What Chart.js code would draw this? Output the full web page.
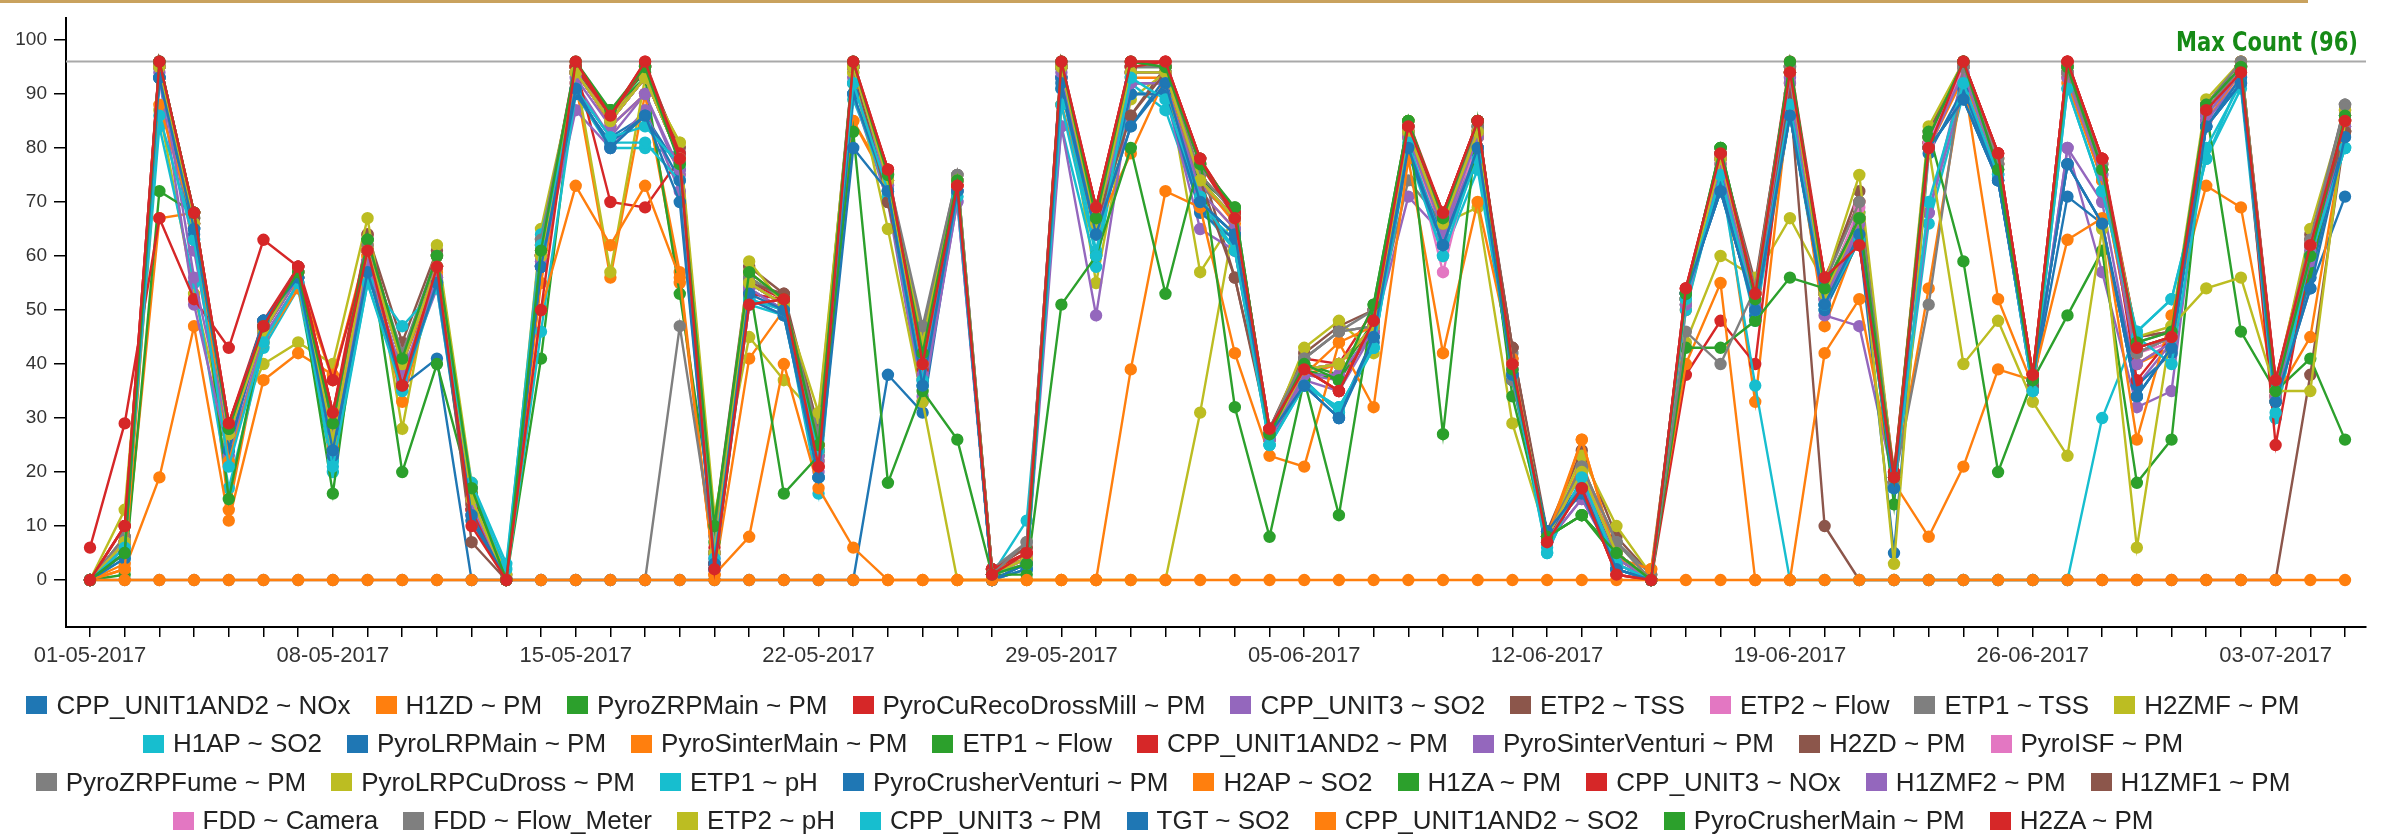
<!DOCTYPE html>
<html><head><meta charset="utf-8">
<script src="https://cdn.jsdelivr.net/npm/chart.js@4.4.0/dist/chart.umd.min.js"></script>
<style>
html,body{margin:0;padding:0;background:#fff;}
#wrap{position:relative;width:2386px;height:836px;overflow:hidden;background:#fff;}
#topline{position:absolute;left:0;top:0;width:2308px;height:3px;background:#c9a25e;}
#cbox{position:absolute;left:0;top:0;width:2386px;height:690px;}
#legend{position:absolute;left:0;top:686px;width:2326px;font-family:"Liberation Sans",Arial,sans-serif;font-size:26px;color:#222;}
.row{display:flex;justify-content:center;align-items:center;height:38.5px;white-space:nowrap;}
.item{display:flex;align-items:center;margin:0 12.5px;}
.box{width:21px;height:18px;margin-right:9px;flex:none;}
</style></head>
<body><div id="wrap"><div id="cbox"><canvas id="c"></canvas></div><div id="topline"></div><div id="legend"></div></div>
<script>
const dates = ["01-05-2017","02-05-2017","03-05-2017","04-05-2017","05-05-2017","06-05-2017","07-05-2017","08-05-2017","09-05-2017","10-05-2017","11-05-2017","12-05-2017","13-05-2017","14-05-2017","15-05-2017","16-05-2017","17-05-2017","18-05-2017","19-05-2017","20-05-2017","21-05-2017","22-05-2017","23-05-2017","24-05-2017","25-05-2017","26-05-2017","27-05-2017","28-05-2017","29-05-2017","30-05-2017","31-05-2017","01-06-2017","02-06-2017","03-06-2017","04-06-2017","05-06-2017","06-06-2017","07-06-2017","08-06-2017","09-06-2017","10-06-2017","11-06-2017","12-06-2017","13-06-2017","14-06-2017","15-06-2017","16-06-2017","17-06-2017","18-06-2017","19-06-2017","20-06-2017","21-06-2017","22-06-2017","23-06-2017","24-06-2017","25-06-2017","26-06-2017","27-06-2017","28-06-2017","29-06-2017","30-06-2017","01-07-2017","02-07-2017","03-07-2017","04-07-2017","05-07-2017"];
const seriesNames = ["CPP_UNIT1AND2 ~ NOx","H1ZD ~ PM","PyroZRPMain ~ PM","PyroCuRecoDrossMill ~ PM","CPP_UNIT3 ~ SO2","ETP2 ~ TSS","ETP2 ~ Flow","ETP1 ~ TSS","H2ZMF ~ PM","H1AP ~ SO2","PyroLRPMain ~ PM","PyroSinterMain ~ PM","ETP1 ~ Flow","CPP_UNIT1AND2 ~ PM","PyroSinterVenturi ~ PM","H2ZD ~ PM","PyroISF ~ PM","PyroZRPFume ~ PM","PyroLRPCuDross ~ PM","ETP1 ~ pH","PyroCrusherVenturi ~ PM","H2AP ~ SO2","H1ZA ~ PM","CPP_UNIT3 ~ NOx","H1ZMF2 ~ PM","H1ZMF1 ~ PM","FDD ~ Camera","FDD ~ Flow_Meter","ETP2 ~ pH","CPP_UNIT3 ~ PM","TGT ~ SO2","CPP_UNIT1AND2 ~ SO2","PyroCrusherMain ~ PM","H2ZA ~ PM"];
const palette = ["#1f77b4","#ff7f0e","#2ca02c","#d62728","#9467bd","#8c564b","#e377c2","#7f7f7f","#bcbd22","#17becf"];
const legendRows = [[0,1,2,3,4,5,6,7,8],[9,10,11,12,13,14,15,16],[17,18,19,20,21,22,23,24,25],[26,27,28,29,30,31,32,33]];
const yTicks = [0,10,20,30,40,50,60,70,80,90,100];
const maxCount = 96;

const s0 = [0,5,93,65,28,48,56,24,58,37,56,12,0,58,91,82,86,76,3,54,50,19,92,72,36,72,0,3,93,64,92,92,70,64,27,37,31,45,80,63,80,38,9,18,2,0,53,72,50,86,51,64,17,80,89,74,37,77,66,34,43,84,92,33,56,83];
const s1 = [0,3,67,68,13,46,56,37,62,40,56,14,0,55,92,56,90,57,1,41,50,22,85,73,38,73,1,3,88,64,93,93,72,65,26,38,40,46,82,65,82,39,7,22,4,0,50,76,51,92,52,65,18,80,93,76,36,93,74,40,43,86,94,34,60,85];
const s2 = [0,5,96,67,27,47,57,26,63,41,60,16,0,61,95,87,94,78,7,56,52,25,95,75,41,74,1,4,95,67,95,95,75,68,27,40,38,48,84,67,84,40,8,18,5,0,53,80,53,95,54,68,18,82,95,77,37,95,76,43,45,87,95,35,62,86];
const s3 = [0,10,96,68,29,48,58,31,64,40,60,16,0,62,96,86,96,79,6,55,52,25,96,76,42,74,2,6,96,69,96,96,78,68,28,41,40,50,85,68,85,41,8,20,5,0,54,79,54,96,56,70,20,82,96,79,38,96,78,45,46,88,96,37,63,87];
const s4 = [0,6,94,61,25,46,56,24,59,38,56,13,0,59,92,82,90,75,3,54,50,22,93,72,34,70,1,4,93,64,92,92,70,61,26,38,37,46,80,64,82,39,7,15,4,0,52,76,51,92,52,65,18,68,94,76,35,80,70,36,44,86,94,34,60,84];
const s5 = [0,8,96,68,28,47,58,29,64,44,61,17,1,63,95,86,95,80,10,58,53,28,96,70,45,75,2,6,96,68,86,95,77,56,28,42,47,50,84,67,84,43,9,24,8,1,53,79,55,95,55,72,19,83,96,78,36,95,77,45,46,88,96,36,64,83];
const s6 = [0,7,95,66,27,46,57,26,61,42,58,15,0,60,94,85,93,78,5,55,51,24,95,74,40,74,1,4,95,66,94,94,74,67,27,39,40,47,83,62,83,40,8,20,5,0,52,78,53,94,53,67,18,81,95,77,37,94,76,42,44,87,95,35,62,86];
const s7 = [0,7,95,66,27,46,57,26,61,40,58,15,0,60,94,85,93,78,5,55,51,24,95,74,46,75,1,4,95,66,94,94,73,67,27,41,46,47,74,66,83,37,8,21,7,0,52,78,53,94,53,67,18,81,95,77,37,94,76,42,45,87,95,35,62,88];
const s8 = [0,13,87,53,26,40,44,40,67,28,62,18,1,65,94,86,93,81,12,45,37,30,94,75,44,74,2,4,95,55,89,94,57,67,27,43,48,42,85,66,69,29,8,23,10,1,44,60,56,67,55,75,19,84,96,78,38,95,77,45,47,89,96,36,65,87];
const s9 = [0,6,84,55,17,43,54,20,55,36,55,17,2,64,90,80,80,79,3,52,50,16,89,73,38,71,1,11,84,58,92,87,69,61,25,37,31,43,80,60,76,38,5,19,3,0,51,75,48,86,50,63,17,66,90,75,35,91,72,46,52,78,91,30,60,80];
const s10 = [0,5,93,65,24,48,56,24,57,36,41,0,0,0,0,0,0,0,0,0,0,0,0,38,31,72,0,3,93,64,84,93,70,64,26,36,30,44,80,63,80,38,9,18,3,0,53,72,50,86,51,64,17,80,89,74,37,77,66,34,43,84,92,33,56,84];
const s11 = [0,2,19,47,11,37,42,38,60,33,57,16,0,62,95,84,90,55,1,57,52,25,85,74,40,73,1,3,88,65,79,93,74,66,26,38,44,47,82,65,82,40,7,26,4,2,51,77,33,90,47,64,18,54,93,52,36,92,74,40,44,85,94,33,60,84];
const s12 = [0,1,72,68,15,46,56,16,63,20,40,16,0,41,94,87,93,53,10,55,51,24,95,74,40,74,1,4,95,67,94,94,74,69,27,39,37,47,83,66,85,40,8,12,4,0,52,80,53,94,53,67,18,82,95,76,37,94,75,42,45,87,95,35,57,86];
const s13 = [0,10,96,68,29,47,58,31,61,36,58,13,0,58,95,70,69,78,3,51,52,21,95,76,40,73,2,5,95,69,96,95,77,67,28,39,35,48,84,68,85,40,7,17,1,0,38,48,40,94,56,62,19,80,96,79,38,96,78,43,45,87,95,37,62,85];
const s14 = [0,5,93,51,23,45,55,23,57,37,54,12,0,58,87,80,87,72,2,52,49,20,90,70,33,70,0,2,84,49,90,90,65,61,26,37,35,46,71,64,80,38,7,15,3,0,51,74,50,90,49,47,18,68,91,75,35,80,57,32,35,85,93,34,59,84];
const s15 = [0,7,95,66,27,46,57,26,61,40,58,15,0,60,94,85,93,78,5,55,51,24,95,74,40,74,1,4,95,66,94,94,74,67,27,39,40,47,83,66,83,43,8,20,5,0,52,78,53,90,10,0,0,0,0,0,0,0,0,0,0,0,0,0,38,83];
const s16 = [0,7,95,66,27,46,57,26,61,40,58,15,0,60,94,85,93,78,5,55,51,24,95,74,40,74,1,4,95,66,94,94,74,67,27,39,40,47,83,57,83,40,8,20,5,0,52,78,53,94,53,69,18,81,95,77,37,94,76,42,45,87,95,35,62,86];
const s17 = [0,8,96,67,28,47,58,28,62,42,60,15,0,63,95,86,95,78,8,56,52,27,95,75,47,75,2,7,95,68,95,95,75,68,28,41,46,50,84,67,84,42,8,21,7,1,53,79,54,95,55,70,19,82,96,78,37,95,77,44,46,88,96,36,63,88];
const s18 = [0,7,95,66,27,46,57,26,61,40,58,15,0,60,94,57,93,81,5,59,51,31,94,65,33,0,0,0,0,0,0,0,31,67,27,39,40,47,83,66,83,40,8,20,5,0,52,78,53,94,53,67,18,81,95,77,37,94,76,42,45,87,95,35,62,86];
const s19 = [0,4,93,63,22,44,55,22,56,47,54,11,0,46,90,81,81,74,2,51,49,19,90,71,36,72,0,2,91,61,90,90,69,63,25,36,32,43,79,60,79,37,5,19,2,0,50,75,36,0,0,0,0,0,0,0,0,0,30,46,52,78,93,30,60,80];
const s20 = [0,4,93,64,24,48,56,23,57,36,55,11,0,58,90,81,86,74,2,52,49,19,90,72,37,72,0,2,91,64,90,90,68,63,27,36,30,45,79,62,79,37,9,16,2,0,52,73,49,88,50,63,5,79,91,74,36,71,66,36,42,84,93,33,54,71];
const s21 = [0,2,88,66,22,44,54,25,60,36,56,14,0,50,73,62,73,56,1,8,40,17,6,0,0,0,0,0,0,0,39,72,69,42,23,21,44,32,78,42,70,41,8,26,4,2,40,55,0,0,42,52,18,8,21,39,37,63,67,26,49,73,69,34,45,83];
const s22 = [0,7,95,66,27,46,57,26,61,40,58,15,0,60,94,85,93,78,5,55,16,23,83,18,35,26,1,1,51,60,80,53,78,32,8,37,12,51,85,27,85,34,8,12,5,0,43,43,48,56,54,67,14,83,59,20,37,49,61,18,26,87,46,35,41,26];
const s23 = [6,29,67,52,43,63,58,37,61,36,58,13,0,61,95,86,95,79,3,53,52,21,95,76,39,73,2,5,95,69,95,96,78,68,28,39,35,48,84,68,85,40,7,17,1,0,54,79,53,94,56,62,20,81,96,79,38,96,78,37,45,87,95,25,60,85];
const s24 = [0,7,95,56,27,46,56,24,59,38,56,14,0,59,93,84,90,76,4,54,50,23,95,73,38,72,1,4,94,64,92,92,72,65,26,38,38,46,82,65,82,39,7,18,4,0,51,77,52,93,52,66,18,80,94,76,36,93,75,40,44,86,94,34,61,85];
const s25 = [0,7,95,67,27,46,57,26,61,40,58,7,0,60,94,85,93,78,5,55,53,24,95,70,40,74,1,4,95,66,86,94,74,56,27,39,40,47,83,66,83,43,8,20,5,0,52,78,53,94,53,67,18,81,95,77,36,94,76,42,45,87,95,35,62,83];
const s26 = [0,7,95,66,27,46,57,26,61,40,58,15,0,60,94,85,93,78,5,55,51,24,95,74,40,74,1,4,95,66,94,94,74,67,27,39,40,47,83,66,83,40,8,20,5,0,52,78,53,94,53,67,18,81,95,77,37,94,76,42,45,87,95,35,62,86];
const s27 = [0,0,0,0,0,0,0,0,0,0,0,0,0,0,0,0,0,47,5,55,51,24,95,74,40,74,1,7,95,66,94,94,74,67,27,41,46,47,83,66,83,37,8,21,7,0,46,40,54,94,53,67,18,51,95,77,37,94,76,42,45,87,95,35,62,88];
const s28 = [0,7,95,66,27,46,57,26,61,40,58,15,0,60,94,85,93,78,5,55,51,24,95,74,40,74,1,4,95,66,94,94,74,67,27,39,40,47,83,66,83,40,8,20,5,0,52,78,53,94,53,67,3,80,40,48,33,23,65,6,47,54,56,35,35,85];
const s29 = [0,6,86,63,21,44,55,21,55,35,55,18,3,62,91,82,84,77,4,52,50,24,92,72,37,71,1,3,88,60,93,89,71,61,25,36,32,43,81,62,78,38,6,19,3,0,52,75,50,88,51,63,17,70,92,75,35,91,72,45,40,80,92,31,60,80];
const s30 = [0,5,93,65,28,48,56,24,57,36,55,12,0,58,91,80,86,70,3,53,50,19,80,72,36,72,0,3,92,64,84,92,70,64,27,36,30,45,80,62,80,38,9,17,2,0,53,72,50,86,51,64,17,80,89,74,37,77,66,34,43,84,92,33,54,82];
const s31 = [0,0,0,0,0,0,0,0,0,0,0,0,0,0,0,0,0,0,0,0,0,0,0,0,0,0,0,0,0,0,0,0,0,0,0,0,0,0,0,0,0,0,0,0,0,0,0,0,0,0,0,0,0,0,0,0,0,0,0,0,0,0,0,0,0,0];
const s32 = [0,5,96,68,28,47,57,29,63,41,60,17,0,61,96,87,95,77,10,57,52,25,96,75,42,74,1,3,96,67,96,95,77,69,27,40,37,51,85,67,85,39,8,12,5,0,53,80,52,96,54,67,19,82,96,76,37,95,76,44,46,88,95,35,60,86];
const s33 = [0,10,96,68,29,47,58,31,61,36,58,10,0,50,96,86,96,78,2,51,52,21,96,76,40,73,1,5,96,69,96,96,78,67,28,39,35,48,84,68,85,40,7,17,1,0,54,79,53,94,56,62,19,80,96,79,38,96,78,43,45,87,94,37,62,85];

const seriesValues = [s0,s1,s2,s3,s4,s5,s6,s7,s8,s9,s10,s11,s12,s13,s14,s15,s16,s17,s18,s19,s20,s21,s22,s23,s24,s25,s26,s27,s28,s29,s30,s31,s32,s33];
const seriesColors = seriesNames.map((n,i)=>palette[i % palette.length]);

const maxLinePlugin = {
  id: 'maxLine',
  beforeDatasetsDraw(chart) {
    const {ctx, chartArea, scales} = chart;
    const yy = scales.y.getPixelForValue(maxCount);
    ctx.save();
    ctx.strokeStyle = '#a9a9a9';
    ctx.lineWidth = 2;
    ctx.beginPath();
    ctx.moveTo(chartArea.left, yy);
    ctx.lineTo(chartArea.right, yy);
    ctx.stroke();
    const txt = 'Max Count (' + maxCount + ')';
    ctx.fillStyle = '#168a16';
    ctx.font = 'bold 26px "DejaVu Sans"';
    const w = ctx.measureText(txt).width;
    ctx.translate(chartArea.right - 8, yy - 11);
    ctx.scale(182 / w, 1);
    ctx.textAlign = 'right';
    ctx.textBaseline = 'alphabetic';
    ctx.fillText(txt, 0, 0);
    ctx.restore();
  }
};

new Chart(document.getElementById('c'), {
  type: 'line',
  data: {
    labels: dates.map((d, i) => i),
    datasets: seriesValues.map((vals, i) => ({
      label: seriesNames[i],
      data: vals,
      borderColor: seriesColors[i],
      backgroundColor: seriesColors[i],
      pointBackgroundColor: seriesColors[i],
      pointBorderColor: seriesColors[i],
      borderWidth: 2.4,
      pointRadius: 5,
      pointHoverRadius: 5,
      tension: 0,
      fill: false,
      order: seriesValues.length - 1 - i
    }))
  },
  options: {
    responsive: true,
    maintainAspectRatio: false,
    animation: false,
    layout: {padding: {top: 6, right: 20, left: 0, bottom: 0}},
    plugins: {legend: {display: false}, tooltip: {enabled: false}},
    scales: {
      x: {
        type: 'linear', min: -0.692, max: 65.605,
        afterBuildTicks: s => { s.ticks = dates.map((d, i) => ({value: i})); },
        afterFit: s => { s.height = 63; },
        ticks: {autoSkip: false, maxRotation: 0, minRotation: 0, padding: 6, color: '#333',
                font: {family: 'Liberation Sans', size: 22},
                callback: v => (v % 7 === 0 ? dates[v] : '')},
        grid: {drawOnChartArea: false, drawTicks: true, tickLength: 10, color: '#000', lineWidth: 1.5},
        border: {display: true, color: '#000', width: 2}
      },
      y: {
        min: -8.7, max: 104,
        afterBuildTicks: s => { s.ticks = yTicks.map(v => ({value: v})); },
        afterFit: s => { s.width = 66; },
        ticks: {padding: 7, color: '#333', font: {family: 'Liberation Sans', size: 19}},
        grid: {drawOnChartArea: false, drawTicks: true, tickLength: 12, color: '#000', lineWidth: 1.5},
        border: {display: true, color: '#000', width: 2}
      }
    }
  },
  plugins: [maxLinePlugin]
});

const legendEl = document.getElementById('legend');
legendRows.forEach(row => {
  const r = document.createElement('div');
  r.className = 'row';
  row.forEach(i => {
    const it = document.createElement('div');
    it.className = 'item';
    const b = document.createElement('span');
    b.className = 'box';
    b.style.background = seriesColors[i];
    const t = document.createElement('span');
    t.textContent = seriesNames[i];
    it.appendChild(b); it.appendChild(t);
    r.appendChild(it);
  });
  legendEl.appendChild(r);
});
</script>
</body></html>
